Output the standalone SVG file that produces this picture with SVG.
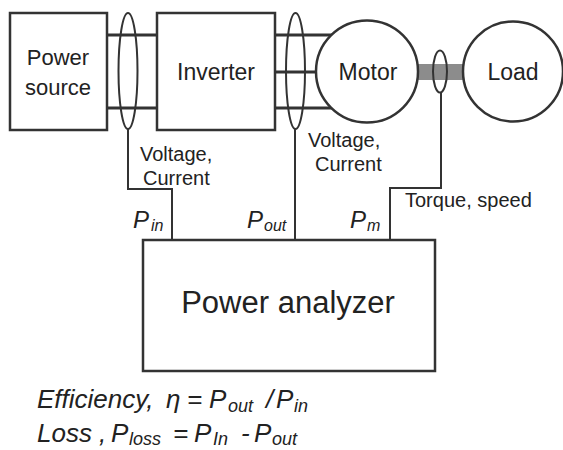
<svg xmlns="http://www.w3.org/2000/svg" width="563" height="450" viewBox="0 0 563 450">
<style>
.box{fill:#fff;stroke:#333;stroke-width:2.5}
.wire{stroke:#333;stroke-width:3;fill:none}
.ell{fill:none;stroke:#333;stroke-width:2}
.conn{fill:none;stroke:#333;stroke-width:2}
.lbl{font-family:"Liberation Sans",Arial,sans-serif;fill:#222;text-anchor:middle}
.sm{font-family:"Liberation Sans",Arial,sans-serif;font-size:20px;fill:#222}
.p{font-family:"Liberation Sans",Arial,sans-serif;font-style:italic;fill:#222}
</style>
<rect width="563" height="450" fill="#fff"/>
<g id="wires">
<line class="wire" x1="107" y1="35" x2="157" y2="35"/>
<line class="wire" x1="107" y1="108" x2="157" y2="108"/>
<line class="wire" x1="275" y1="35" x2="333" y2="35"/>
<line class="wire" x1="275" y1="72" x2="317" y2="72"/>
<line class="wire" x1="275" y1="108" x2="333" y2="108"/>
<rect x="416" y="64" width="48" height="16" fill="#8c8c8c"/>
</g>
<g id="power-source">
<rect class="box" x="10" y="13" width="97" height="117"/>
<text class="lbl" x="58" y="65" font-size="22">Power</text>
<text class="lbl" x="58" y="95" font-size="22">source</text>
</g>
<g id="inverter">
<rect class="box" x="157" y="13" width="118" height="117"/>
<text class="lbl" x="216" y="80" font-size="23">Inverter</text>
</g>
<g id="motor">
<circle class="box" cx="367" cy="71.5" r="51"/>
<text class="lbl" x="368" y="80" font-size="23">Motor</text>
</g>
<g id="load">
<circle class="box" cx="513" cy="71.5" r="50"/>
<text class="lbl" x="513" y="80" font-size="23">Load</text>
</g>
<g id="sensors">
<ellipse class="ell" cx="128" cy="71" rx="9.5" ry="58"/>
<ellipse class="ell" cx="295.5" cy="71" rx="9.5" ry="58"/>
<ellipse class="ell" cx="440" cy="71.5" rx="7" ry="21"/>
</g>
<g id="connectors">
<polyline class="conn" points="128,129 128,189 172,189 172,240"/>
<polyline class="conn" points="295,129 295,240"/>
<polyline class="conn" points="441,92.5 441,188 390,188 390,240"/>
</g>
<g id="labels">
<text class="sm" x="140" y="161">Voltage,</text>
<text class="sm" x="143" y="185">Current</text>
<text class="sm" x="308" y="147">Voltage,</text>
<text class="sm" x="315" y="171">Current</text>
<text class="sm" x="405" y="207">Torque, speed</text>
<text class="p" y="228" font-size="24"><tspan x="133">P</tspan><tspan x="151" font-size="16" dy="3">in</tspan></text>
<text class="p" y="228" font-size="24"><tspan x="247">P</tspan><tspan x="264" font-size="16" dy="3">out</tspan></text>
<text class="p" y="228" font-size="24"><tspan x="350">P</tspan><tspan x="367" font-size="16" dy="3">m</tspan></text>
</g>
<g id="power-analyzer">
<rect class="box" x="143" y="240" width="292" height="131" stroke-width="3"/>
<text class="lbl" x="288" y="313" font-size="31">Power analyzer</text>
</g>
<g id="formulas">
<text class="p" font-size="26" y="408"><tspan x="37">Efficiency,</tspan><tspan x="166">η</tspan><tspan x="187">=</tspan><tspan x="209">P</tspan><tspan x="228" font-size="18" dy="4">out</tspan><tspan x="266" dy="-4">/</tspan><tspan x="276">P</tspan><tspan x="294" font-size="18" dy="4">in</tspan></text>
<text class="p" font-size="26" y="442"><tspan x="37">Loss</tspan><tspan x="99">,</tspan><tspan x="111">P</tspan><tspan x="129" font-size="18" dy="3">loss</tspan><tspan x="173" dy="-3">=</tspan><tspan x="194">P</tspan><tspan x="213" font-size="18" dy="3">In</tspan><tspan x="241" dy="-3">-</tspan><tspan x="254">P</tspan><tspan x="272" font-size="18" dy="3">out</tspan></text>
</g>
</svg>
